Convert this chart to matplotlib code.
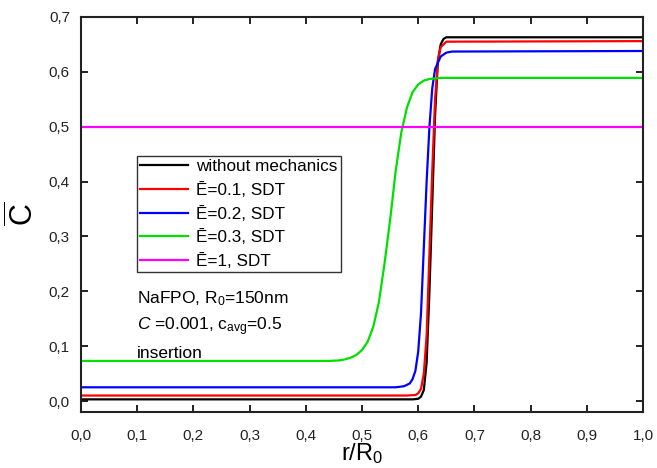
import matplotlib
matplotlib.use('Agg')
import matplotlib.pyplot as plt

plt.rcParams['font.family'] = ['Liberation Sans', 'DejaVu Sans']
plt.rcParams['mathtext.fontset'] = 'custom'
plt.rcParams['mathtext.rm'] = 'Liberation Sans'
plt.rcParams['mathtext.it'] = 'Liberation Sans:italic'

# концентрационные профили c(r/R0)
x_nomech = [0.0, 0.59, 0.60, 0.605, 0.61, 0.615, 0.62, 0.625, 0.63, 0.635, 0.64, 0.645, 0.65, 1.0]
c_nomech = [0.003, 0.003, 0.004, 0.008, 0.02, 0.07, 0.20, 0.36, 0.52, 0.62, 0.65, 0.66, 0.663, 0.663]

x_e01 = [0.0, 0.58, 0.595, 0.60, 0.605, 0.61, 0.615, 0.62, 0.625, 0.63, 0.635, 0.64, 0.65, 1.0]
c_e01 = [0.01, 0.01, 0.011, 0.014, 0.022, 0.05, 0.12, 0.27, 0.42, 0.55, 0.62, 0.645, 0.655, 0.656]

x_e02 = [0.0, 0.56, 0.575, 0.585, 0.59, 0.595, 0.60, 0.605, 0.61, 0.615, 0.62, 0.625, 0.63, 0.64, 0.65, 0.66, 1.0]
c_e02 = [0.025, 0.025, 0.027, 0.032, 0.04, 0.055, 0.09, 0.16, 0.28, 0.40, 0.50, 0.57, 0.605, 0.628, 0.635, 0.637, 0.638]

x_e03 = [0.0, 0.44, 0.46, 0.47, 0.48, 0.49, 0.50, 0.51, 0.52, 0.53, 0.54, 0.55, 0.56, 0.57,
         0.58, 0.59, 0.60, 0.61, 0.62, 0.64, 1.0]
c_e03 = [0.073, 0.073, 0.074, 0.076, 0.079, 0.084, 0.093, 0.108, 0.135, 0.18, 0.25, 0.33, 0.42, 0.49,
         0.535, 0.563, 0.577, 0.584, 0.587, 0.589, 0.589]

x_e1 = [0.0, 1.0]
c_e1 = [0.5, 0.5]

labels = ['without mechanics', 'Ē=0.1, SDT', 'Ē=0.2, SDT', 'Ē=0.3, SDT', 'Ē=1, SDT']
colors = ['#000000', '#ff0000', '#0000ff', '#00e000', '#ff00ff']

xticks = [0.0, 0.1, 0.2, 0.3, 0.4, 0.5, 0.6, 0.7, 0.8, 0.9, 1.0]
xtick_labels = ['0,0', '0,1', '0,2', '0,3', '0,4', '0,5', '0,6', '0,7', '0,8', '0,9', '1,0']
yticks = [0.0, 0.1, 0.2, 0.3, 0.4, 0.5, 0.6, 0.7]
ytick_labels = ['0,0', '0,1', '0,2', '0,3', '0,4', '0,5', '0,6', '0,7']

fig = plt.figure(figsize=(6.57, 4.68), dpi=100)
ax = fig.add_axes([0.1233, 0.1197, 0.8554, 0.844])

series = [(x_nomech, c_nomech), (x_e01, c_e01), (x_e02, c_e02), (x_e03, c_e03), (x_e1, c_e1)]
for (xs, cs), lab, col in zip(series, labels, colors):
    ax.plot(xs, cs, color=col, lw=1.6, label=lab)

ax.set_xlim(0.0, 1.0)
ax.set_ylim(-0.02, 0.7)
ax.set_xticks(xticks)
ax.set_xticklabels(xtick_labels)
ax.set_yticks(yticks)
ax.set_yticklabels(ytick_labels)
ax.tick_params(direction='in', length=5, width=1.4, labelsize=11, color='#222222',
               labelcolor='#222222', top=True, right=True)
ax.tick_params(axis='x', pad=12)
ax.tick_params(axis='y', pad=8)
for sp in ax.spines.values():
    sp.set_linewidth(1.5)
    sp.set_color('#222222')

ax.set_xlabel(r'r/R$_0$', fontsize=17, labelpad=-1)
ax.set_ylabel(r'$\mathrm{\overline{C}}$', fontsize=22, labelpad=6)

leg = ax.legend(loc='upper left', bbox_to_anchor=(0.0996, 0.648), fontsize=12.3,
                frameon=True, fancybox=False, edgecolor='#333333', framealpha=1,
                handlelength=2.8, handletextpad=0.45, labelspacing=0.45,
                borderpad=0.2, borderaxespad=0.0)
leg.get_frame().set_linewidth(1.0)

ax.text(0.0996, 0.288, r'NaFPO, R$_0$=150nm', transform=ax.transAxes, fontsize=12.5, va='center')
ax.text(0.0996, 0.217, r'$\mathit{C}$ =0.001, c$_{\mathrm{avg}}$=0.5', transform=ax.transAxes,
        fontsize=12.5, va='center')
ax.text(0.0996, 0.149, 'insertion', transform=ax.transAxes, fontsize=12.5, va='center')

fig.savefig('out.png', dpi=100)
